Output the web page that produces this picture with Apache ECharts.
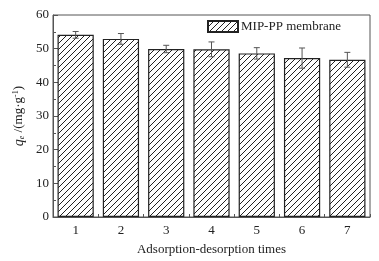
<!DOCTYPE html>
<html>
<head>
<meta charset="utf-8">
<script src="https://cdn.jsdelivr.net/npm/echarts@6/dist/echarts.min.js"></script>
<style>
  html, body { margin: 0; padding: 0; background: #fff; }
  #chart { width: 379px; height: 261px; }
</style>
</head>
<body>
<div id="chart"></div>
<script>
// data
const categories = ['1', '2', '3', '4', '5', '6', '7'];
const capacity = [54.1, 52.9, 49.9, 49.8, 48.6, 47.2, 46.7];
const errors = [1.0, 1.6, 1.1, 2.2, 1.7, 3.0, 2.2];
const seriesName = 'MIP-PP membrane';

const fontFamily = '"Liberation Serif", "DejaVu Serif", serif';

// hatch pattern "////"
function makeHatch() {
    const size = 6;
    const c = document.createElement('canvas');
    c.width = size;
    c.height = size;
    const ctx = c.getContext('2d');
    ctx.fillStyle = '#fff';
    ctx.fillRect(0, 0, size, size);
    ctx.strokeStyle = '#222';
    ctx.lineWidth = 1;
    ctx.beginPath();
    ctx.moveTo(-1, size + 1);
    ctx.lineTo(size + 1, -1);
    ctx.moveTo(-1, 1);
    ctx.lineTo(1, -1);
    ctx.moveTo(size - 1, size + 1);
    ctx.lineTo(size + 1, size - 1);
    ctx.stroke();
    return c;
}

const chart = echarts.init(document.getElementById('chart'));
const hatch = { image: makeHatch(), repeat: 'repeat' };

const errData = capacity.map((v, i) => [i, v - errors[i], v + errors[i]]);

const option = {
    animation: false,
    textStyle: { fontFamily: fontFamily },
    grid: {
        left: 53, right: 9, top: 15, bottom: 38,
        show: true, borderColor: '#555', borderWidth: 1
    },
    legend: {
        left: 207, top: 20, padding: 0,
        itemWidth: 30, itemHeight: 11, itemGap: 4,
        icon: 'rect',
        data: [seriesName],
        textStyle: { fontFamily: fontFamily, fontSize: 13, color: '#222', padding: [0, 0, 0, -2] }
    },
    xAxis: {
        type: 'category',
        data: categories,
        name: 'Adsorption-desorption times',
        nameLocation: 'middle',
        nameGap: 26,
        nameTextStyle: { fontFamily: fontFamily, fontSize: 13, color: '#222' },
        axisLine: { lineStyle: { color: '#555', width: 1 } },
        axisTick: { show: true, inside: true, length: 3, lineStyle: { color: '#555' } },
        axisLabel: { fontFamily: fontFamily, fontSize: 13, color: '#222', margin: 7 }
    },
    yAxis: {
        type: 'value',
        min: 0, max: 60, interval: 10,
        axisLine: { show: true, lineStyle: { color: '#555', width: 1 } },
        axisTick: { show: true, inside: true, length: 5, lineStyle: { color: '#555' } },
        minorTick: { show: true, splitNumber: 2, length: 3, lineStyle: { color: '#555' } },
        splitLine: { show: false },
        axisLabel: { fontFamily: fontFamily, fontSize: 13, color: '#222', margin: 4 }
    },
    graphic: [{
        type: 'text',
        left: 12,
        top: 86,
        rotation: Math.PI / 2,
        style: {
            text: '{q|q}{sub|e}{n| /(mg·g}{sup|-1}{n|)}',
            fontFamily: fontFamily,
            fill: '#222',
            rich: {
                q: { fontSize: 14, fontStyle: 'italic', fontFamily: fontFamily, fill: '#222' },
                sub: { fontSize: 8, fontStyle: 'italic', verticalAlign: 'bottom', padding: [6, 0, 0, 0], fontFamily: fontFamily, fill: '#222' },
                n: { fontSize: 13, fontFamily: fontFamily, fill: '#222' },
                sup: { fontSize: 8, verticalAlign: 'top', padding: [0, 0, 6, 0], fontFamily: fontFamily, fill: '#222' }
            }
        }
    }],
    series: [
        {
            name: seriesName,
            type: 'bar',
            data: capacity,
            barWidth: '80%',
            itemStyle: { color: hatch, borderColor: '#222', borderWidth: 1.2 }
        },
        {
            type: 'custom',
            name: 'error',
            data: errData,
            z: 10,
            renderItem: function (params, api) {
                const x = api.value(0);
                const lo = api.coord([x, api.value(1)]);
                const hi = api.coord([x, api.value(2)]);
                const cap = 3;
                const style = { stroke: '#555', lineWidth: 1 };
                return {
                    type: 'group',
                    children: [
                        { type: 'line', shape: { x1: lo[0], y1: lo[1], x2: hi[0], y2: hi[1] }, style: style },
                        { type: 'line', shape: { x1: hi[0] - cap, y1: hi[1], x2: hi[0] + cap, y2: hi[1] }, style: style },
                        { type: 'line', shape: { x1: lo[0] - cap, y1: lo[1], x2: lo[0] + cap, y2: lo[1] }, style: style }
                    ]
                };
            }
        }
    ]
};

chart.setOption(option);
</script>
</body>
</html>
